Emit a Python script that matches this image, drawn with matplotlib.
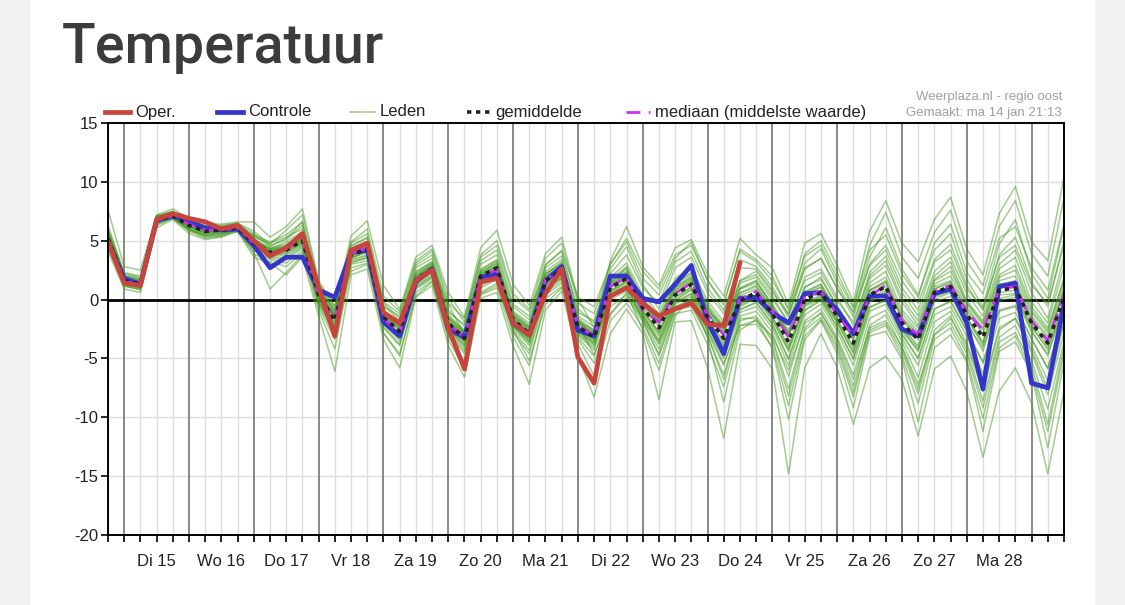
import matplotlib
matplotlib.use("Agg")
import matplotlib.pyplot as plt
from matplotlib.lines import Line2D
import numpy as np

# ---------------- data ----------------
day_labels = ["Di 15", "Wo 16", "Do 17", "Vr 18", "Za 19", "Zo 20", "Ma 21",
              "Di 22", "Wo 23", "Do 24", "Vr 25", "Za 26", "Zo 27", "Ma 28"]
y_ticks = [15, 10, 5, 0, -5, -10, -15, -20]

oper = [4.9,1.4,1.2,6.8,7.3,6.9,6.6,6.0,6.3,5.0,3.7,4.4,5.6,1.0,-3.1,4.2,4.8,-1.1,-2.0,1.6,
        2.5,-2.4,-5.9,1.5,1.8,-2.0,-3.0,0.5,2.6,-4.9,-7.1,0.3,1.0,-0.3,-1.4,-0.8,-0.3,-2.1,-2.2,3.1]

controle = [4.9,1.8,1.3,6.7,7.1,6.6,6.1,5.9,6.0,4.6,2.7,3.6,3.6,0.8,0.2,4.0,4.2,-1.9,-3.1,1.5,
            2.6,-2.5,-3.2,1.9,2.2,-2.0,-3.0,1.6,2.8,-2.6,-3.1,2.0,2.0,0.1,-0.2,1.3,2.9,-1.8,-4.6,0.1,
            0.2,-1.1,-2.0,0.5,0.6,-0.9,-2.9,0.3,0.3,-2.5,-3.1,0.5,0.9,-2.0,-7.6,1.1,1.4,-7.1,-7.5,-0.4]

gemiddelde = [5.2,1.6,1.3,6.8,7.1,6.3,5.8,5.9,6.1,4.8,4.0,4.2,5.0,0.4,-1.8,3.8,4.3,-1.5,-2.7,1.7,
              2.6,-2.0,-3.3,2.0,2.7,-1.7,-2.9,1.6,2.5,-2.3,-3.2,1.0,1.8,-0.7,-2.4,0.4,1.3,-1.5,-3.3,-0.1,
              0.6,-1.2,-3.6,0.0,0.6,-1.4,-3.7,0.4,1.1,-2.0,-3.4,0.6,1.1,-1.3,-3.2,0.8,1.0,-2.0,-3.7,0.2]

mediaan = [5.1,1.5,1.3,6.8,7.1,6.4,5.9,5.9,6.1,4.8,3.9,4.3,5.1,0.3,-1.6,3.9,4.4,-1.6,-2.8,1.8,
           2.5,-2.1,-3.2,2.1,2.5,-1.8,-2.9,1.7,2.6,-2.2,-3.1,1.1,1.9,-0.9,-1.9,0.5,1.4,-1.3,-3.0,0.0,
           0.7,-1.0,-3.2,0.2,0.7,-1.3,-3.1,0.3,1.2,-1.8,-3.0,0.7,1.2,-1.0,-2.6,0.9,1.1,-1.8,-3.5,0.4]

leden = [
    [7.6,2.8,2.5,7.2,7.7,6.9,6.5,6.4,6.6,6.6,5.3,6.2,7.7,1.6,-0.6,5.4,6.7,1.2,-0.8,3.6,4.6,0.6,-1.5,4.4,5.9,1.3,-0.5,3.9,5.3,0.1,-2.4,3.3,6.2,2.8,1.2,4.4,5.1,2.2,0.3,5.2,3.8,2.7,-0.4,4.8,5.6,2.9,-0.2,5.8,8.4,4.8,3.2,6.8,8.7,4.3,2.1,7.3,9.6,4.9,3.3,10.4],
    [4.1,0.9,0.6,6.1,6.8,5.6,5.1,5.3,5.8,3.6,3.1,2.1,3.6,-1.4,-6.1,2.1,2.6,-3.4,-5.8,0.2,1.2,-3.9,-6.6,0.1,0.6,-3.9,-7.2,-0.9,0.7,-4.8,-8.3,-2.9,-0.8,-2.9,-8.5,-1.9,-1.8,-5.8,-11.8,-3.8,-3.9,-5.9,-14.8,-5.8,-2.9,-5.8,-10.6,-5.8,-4.8,-6.8,-11.6,-5.9,-4.8,-7.8,-13.4,-7.8,-5.8,-8.8,-14.8,-7.8],
    [6.3,2.2,1.9,7.0,7.4,6.7,6.2,6.2,6.4,5.4,4.6,5.1,6.3,1.2,-1.0,4.8,5.6,-0.3,-1.6,2.9,3.8,-0.9,-2.3,3.3,4.2,-0.4,-1.4,3.0,4.1,-1.1,-1.8,2.6,4.5,1.3,-0.8,2.7,3.6,0.6,-1.2,3.4,2.8,1.1,-1.3,3.1,4.3,1.4,-1.2,3.6,6.1,2.6,0.4,4.2,5.6,1.7,-0.6,4.7,6.8,2.2,0.1,6.2],
    [4.5,1.1,0.9,6.4,6.9,5.9,5.4,5.6,5.9,4.2,3.4,3.1,4.2,-0.6,-3.4,3.0,3.3,-2.4,-3.9,0.9,1.8,-2.9,-4.6,1.0,1.7,-2.8,-4.6,0.4,1.4,-3.4,-5.4,-1.2,0.2,-1.9,-4.6,-0.8,-0.4,-3.1,-6.4,-1.8,-1.4,-3.3,-7.6,-2.4,-1.1,-3.6,-7.4,-2.2,-1.3,-4.1,-7.6,-2.6,-1.4,-4.3,-8.6,-3.2,-2.2,-5.2,-9.3,-3.6],
    [5.3,1.7,1.4,6.9,7.2,6.3,5.8,5.9,6.1,4.9,4.1,4.3,5.1,0.5,-1.7,3.9,4.4,-1.4,-2.6,1.8,2.7,-1.9,-3.1,2.1,2.8,-1.6,-2.7,1.7,2.6,-2.1,-3.0,1.2,2.0,-0.5,-2.1,0.6,1.5,-1.2,-2.9,0.3,0.9,-0.9,-3.1,0.4,1.0,-1.0,-3.2,0.8,1.6,-1.5,-2.9,1.1,1.6,-0.8,-2.6,1.3,1.6,-1.4,-3.1,0.9],
    [5.0,1.4,1.1,6.7,7.0,6.1,5.6,5.7,6.0,4.6,3.8,4.0,4.8,0.1,-2.2,3.6,4.0,-1.8,-3.1,1.4,2.3,-2.4,-3.8,1.7,2.3,-2.1,-3.4,1.2,2.1,-2.7,-3.7,0.6,1.3,-1.3,-3.1,-0.1,0.8,-2.0,-4.0,-0.6,0.1,-1.8,-4.4,-0.6,0.1,-2.0,-4.5,-0.2,0.4,-2.7,-4.3,-0.2,0.3,-2.1,-4.1,-0.1,0.2,-2.8,-4.6,-0.6],
    [5.6,1.9,1.6,6.9,7.3,6.5,6.0,6.1,6.3,5.1,4.4,4.7,5.6,0.8,-1.2,4.3,4.9,-0.9,-2.0,2.4,3.2,-1.3,-2.6,2.6,3.4,-1.0,-2.0,2.4,3.4,-1.4,-2.3,1.9,3.1,0.4,-1.2,1.8,2.7,-0.1,-1.9,1.6,2.1,0.3,-2.0,1.9,2.6,0.2,-2.2,2.3,3.7,0.6,-1.4,2.4,3.6,0.5,-1.4,3.0,4.2,0.6,-1.6,3.6],
    [4.8,1.3,1.0,6.6,6.9,6.0,5.5,5.6,5.9,4.4,3.6,3.6,4.5,-0.2,-2.7,3.3,3.7,-2.1,-3.5,1.1,2.0,-2.6,-4.2,1.4,2.0,-2.4,-3.9,0.8,1.8,-3.0,-4.3,0.0,0.7,-1.7,-3.7,-0.4,0.3,-2.5,-5.0,-1.1,-0.6,-2.4,-5.6,-1.3,-0.4,-2.7,-5.6,-1.0,-0.4,-3.3,-5.6,-1.3,-0.6,-3.1,-6.3,-1.6,-1.1,-3.9,-6.9,-1.9],
    [5.5,1.8,1.5,6.8,7.1,6.2,5.7,5.8,6.0,4.0,0.9,2.3,3.8,0.9,-0.9,2.4,3.0,-0.6,-1.4,2.0,3.0,-0.4,-3.0,0.5,1.2,-2.6,-5.2,-0.4,1.0,-2.1,-4.7,-1.3,0.6,-2.6,-6.0,-1.4,0.2,-3.3,-8.7,-2.6,-1.7,-4.2,-10.2,-3.4,-1.8,-4.6,-9.2,-3.1,-2.7,-5.1,-10.4,-4.1,-3.0,-5.3,-11.2,-4.4,-3.6,-6.3,-12.6,-5.3],
    [4.9,1.5,1.2,6.5,7.0,6.0,5.3,5.4,6.0,5.5,4.9,5.5,6.6,0.0,-3.0,3.1,3.6,-2.9,-4.6,0.3,1.5,-3.1,-5.2,0.6,1.4,-1.1,-2.2,2.9,4.2,0.2,-0.6,3.0,5.2,2.4,0.9,3.8,4.6,1.7,-0.5,4.3,3.4,2.0,-0.9,3.9,5.0,2.3,-0.6,4.6,7.4,3.6,1.8,5.7,7.6,3.3,1.2,6.2,8.4,3.9,2.0,8.6],
    [5.9,2.0,1.7,7.1,7.5,6.6,6.1,6.2,6.5,5.8,4.7,5.9,7.2,1.4,-0.6,4.9,6.0,0.3,-1.0,3.3,4.3,0.1,-1.9,3.8,5.0,0.5,-0.8,2.2,3.0,-1.6,-3.4,1.4,2.7,-0.2,-1.6,1.3,2.2,-0.6,-2.5,0.9,1.6,-0.4,-2.8,1.0,1.9,-0.6,-2.6,1.8,2.9,-0.2,-2.2,1.7,2.8,-0.3,-2.0,2.1,2.9,-0.6,-2.4,1.7],
    [4.4,1.2,0.8,6.3,6.9,5.8,5.2,5.4,5.8,3.9,3.2,2.8,4.0,-0.9,-4.2,2.7,3.1,-2.8,-4.8,0.6,1.6,-3.4,-5.8,0.4,1.0,-3.2,-5.6,0.1,1.1,-3.8,-6.5,-1.8,-0.3,-2.3,-5.4,-1.2,-0.9,-3.8,-7.4,-2.2,-2.1,-4.0,-9.0,-3.1,-1.7,-4.2,-8.3,-2.8,-2.2,-4.8,-8.8,-3.4,-2.4,-5.1,-10.1,-4.1,-3.1,-6.1,-11.2,-4.5],
    [5.4,1.6,1.3,6.9,7.2,6.4,5.9,6.0,6.2,5.0,4.2,4.5,5.3,0.6,-1.4,4.1,4.6,-1.2,-2.3,2.1,3.0,-1.6,-2.9,2.3,3.1,-1.3,-2.4,2.0,2.9,-1.8,-2.7,1.5,2.4,-0.1,-1.7,1.1,2.0,-0.7,-2.4,0.9,1.4,-0.4,-2.6,1.1,1.7,-0.5,-2.7,1.4,2.4,-0.9,-2.4,1.6,2.4,-0.3,-2.1,1.9,2.5,-0.9,-2.6,1.8],
    [5.1,1.5,1.2,6.7,7.1,6.2,5.7,5.8,6.0,4.7,3.9,4.1,4.9,0.3,-2.0,3.7,4.2,-1.6,-2.9,1.6,2.5,-2.2,-3.5,1.9,2.5,-1.9,-3.1,1.4,2.3,-2.4,-3.4,0.8,1.6,-1.0,-2.7,0.2,1.1,-1.7,-3.5,-0.3,0.4,-1.4,-3.9,-0.3,0.4,-1.7,-4.0,0.1,0.8,-2.3,-3.9,0.2,0.7,-1.7,-3.7,0.4,0.5,-2.4,-4.1,-0.2],
    [6.0,2.3,2.0,7.1,7.5,6.8,6.3,6.3,6.5,5.3,4.8,5.3,6.0,1.0,-1.1,4.6,5.3,-0.5,-1.8,2.7,3.5,-1.1,-2.1,3.0,3.8,-0.6,-1.7,2.7,3.7,-0.8,-2.0,2.2,3.8,1.0,-0.3,3.2,4.1,1.0,-0.9,2.7,2.6,0.8,-1.5,2.6,3.5,1.0,-1.5,3.0,4.6,1.6,-0.3,3.4,4.7,1.2,-0.9,3.8,5.3,1.5,-0.6,5.0],
    [4.6,1.2,0.9,6.5,7.0,5.9,5.4,5.5,5.9,4.3,3.5,3.4,4.4,-0.4,-3.0,3.2,3.5,-2.3,-3.8,1.0,1.9,-2.8,-4.4,1.2,1.8,-2.6,-4.3,0.6,1.6,-3.2,-4.8,-0.6,0.4,-1.6,-4.2,-0.6,0.0,-2.8,-5.6,-1.4,-1.0,-2.8,-6.5,-1.8,-0.8,-3.2,-6.4,-1.6,-0.9,-3.6,-6.6,-1.9,-1.0,-3.7,-7.4,-2.4,-1.6,-4.5,-8.1,-2.8],
    [5.7,1.9,1.6,7.0,7.3,6.6,6.1,6.1,6.3,5.2,4.3,4.9,5.8,0.7,-1.6,4.0,4.7,-1.0,-2.2,2.2,3.1,-1.5,-2.8,2.4,3.2,-1.4,-2.5,2.1,3.1,-1.9,-2.9,1.6,2.6,-0.3,-1.9,1.0,1.9,-1.0,-2.2,1.4,1.9,0.0,-1.9,1.6,2.3,-0.1,-1.9,2.0,3.3,0.1,-1.8,2.0,3.2,-0.1,-1.8,2.6,3.6,-0.2,-2.0,2.8],
    [5.2,1.6,1.3,6.8,7.1,6.3,5.8,5.9,6.1,4.8,4.0,4.2,5.0,0.4,-1.9,3.8,4.3,-1.5,-2.7,1.7,2.6,-2.1,-3.4,1.9,2.6,-2.0,-3.3,1.0,1.8,-2.6,-3.6,0.3,1.0,-1.5,-3.4,-0.3,0.5,-2.3,-4.5,-0.9,-0.2,-2.1,-5.0,-0.9,-0.1,-2.4,-5.0,-0.6,-0.1,-3.0,-5.0,-0.8,-0.2,-2.7,-5.3,-1.0,-0.6,-3.4,-5.8,-1.2],
    [5.8,2.1,1.8,7.1,7.4,6.6,6.1,6.1,6.4,5.6,4.5,5.2,6.6,1.1,-0.8,4.5,5.2,-0.2,-1.2,3.1,4.1,-0.3,-1.6,3.6,4.6,0.2,-1.0,3.5,4.8,-0.3,-1.2,3.0,4.9,1.8,0.4,3.5,4.9,1.6,-0.2,4.1,3.2,1.6,-0.7,3.7,4.6,1.8,-0.7,4.2,5.5,2.2,0.2,4.8,6.4,2.3,0.5,5.2,6.2,2.7,0.8,6.4],
    [4.7,1.3,1.0,6.6,7.0,6.0,5.5,5.6,5.9,4.5,3.7,3.8,4.6,-0.3,-2.5,3.4,3.8,-2.0,-3.3,1.2,2.1,-2.5,-4.0,1.5,2.1,-2.3,-3.7,0.9,1.9,-2.9,-4.1,0.2,0.9,-1.4,-3.5,-0.2,0.5,-2.2,-4.6,-0.8,-0.3,-2.1,-5.1,-0.9,0.0,-2.3,-5.1,-0.7,0.0,-2.9,-5.0,-0.8,-0.1,-2.6,-5.4,-0.9,-0.5,-3.3,-5.9,-1.1],
    [5.0,1.4,1.1,6.7,7.1,6.2,5.6,5.8,6.0,4.6,3.8,3.9,4.7,0.2,-2.3,3.5,4.1,-1.7,-3.0,1.5,2.4,-2.3,-3.6,1.8,2.4,-2.2,-3.6,1.1,2.0,-2.8,-3.9,0.4,1.2,-1.8,-4.8,-0.9,-0.6,-3.0,-6.8,-1.6,-1.6,-3.5,-8.2,-2.6,-1.5,-3.9,-7.9,-2.6,-2.0,-4.4,-8.0,-3.0,-2.0,-4.6,-9.2,-3.6,-2.8,-5.6,-10.6,-4.0],
    [5.4,1.7,1.4,6.9,7.2,6.4,5.9,6.0,6.2,4.9,4.2,4.4,5.2,0.6,-1.5,4.0,4.5,-1.3,-2.4,1.9,2.8,-1.8,-3.0,2.2,2.9,-1.5,-2.6,1.9,2.8,-2.0,-2.8,1.3,2.2,-0.7,-2.3,0.8,1.7,-1.1,-3.0,1.6,2.4,0.6,-1.2,2.7,3.5,0.9,-1.0,2.9,4.2,1.0,-0.9,3.2,4.2,0.9,-0.8,3.6,4.6,1.2,-0.3,4.6],
    [5.3,1.6,1.3,6.8,7.2,6.3,5.8,5.9,6.2,4.8,4.1,4.3,5.0,0.5,-1.6,3.9,4.4,-1.4,-2.5,1.8,2.7,-1.9,-3.2,2.1,2.8,-1.7,-2.8,1.6,2.5,-2.3,-3.3,1.0,1.8,-1.2,-3.8,-0.7,0.0,-2.6,-5.4,-2.2,-1.8,-3.1,-6.0,-2.0,-1.2,-3.4,-6.8,-2.4,-1.8,-4.0,-7.2,-3.0,-1.6,-3.9,-7.8,-2.6,-1.6,-4.2,-7.6,-2.0],
    [5.6,1.8,1.5,6.9,7.3,6.5,6.0,6.1,6.3,5.1,4.3,4.6,5.4,0.7,-1.3,4.2,4.8,-1.1,-2.1,2.3,3.2,-1.4,-2.7,2.5,3.3,-1.2,-2.3,2.2,3.2,-1.6,-2.6,1.7,2.8,0.1,-1.5,1.4,2.3,-0.4,-2.2,1.0,1.6,-0.6,-3.0,0.6,1.3,-1.2,-3.4,0.8,1.5,-1.7,-3.4,0.9,1.5,-1.5,-3.6,1.1,1.4,-1.9,-3.9,0.9],
    [5.5,1.7,1.5,7.0,7.3,6.5,6.0,6.0,6.3,5.0,4.3,4.5,5.3,0.2,-2.1,3.7,4.2,-1.8,-3.2,1.4,2.3,-2.4,-3.9,1.5,2.2,-2.2,-3.5,1.3,2.2,-2.6,-3.8,0.7,1.5,-0.9,-2.8,0.2,1.0,-1.9,-3.9,-0.5,0.2,-1.6,-4.3,-0.5,0.3,-1.9,-4.6,-0.1,0.6,-2.5,-4.4,0.0,0.6,-1.9,-4.4,0.1,0.4,-2.6,-4.8,-0.4],
    [5.0,1.5,1.2,6.8,7.1,6.2,5.7,5.8,6.1,4.7,4.0,4.3,5.1,0.6,-1.3,4.0,4.5,-1.2,-2.2,2.0,2.9,-1.6,-2.8,2.3,3.0,-1.4,-2.4,1.9,2.8,-1.8,-2.6,1.4,2.3,-0.3,-1.8,1.0,1.8,-0.8,-2.6,0.6,1.2,-0.7,-2.9,0.7,1.3,-0.8,-2.9,1.1,1.9,-1.2,-2.7,1.3,2.0,-0.6,-2.4,1.6,2.0,-1.1,-2.8,1.3],
    [5.7,2.0,1.7,7.0,7.4,6.5,6.0,6.0,6.2,4.9,4.0,4.1,4.8,0.0,-2.4,3.5,4.1,-1.7,-3.0,1.5,2.4,-2.2,-3.6,1.8,2.5,-1.9,-3.2,1.3,2.3,-2.5,-3.5,0.7,1.5,-1.1,-2.9,0.0,0.9,-1.8,-3.7,-0.4,0.3,-1.5,-4.1,-0.4,0.2,-1.8,-4.2,0.0,0.6,-2.4,-4.1,0.3,0.9,-1.5,-3.9,0.6,0.8,-2.2,-4.3,0.0],
    [5.2,1.8,1.4,6.8,7.1,6.4,5.9,5.9,6.1,4.8,4.1,4.4,5.1,0.5,-1.5,4.0,4.4,-1.3,-2.4,1.9,2.8,-1.8,-3.0,2.1,2.8,-1.6,-2.7,1.8,2.7,-2.0,-2.9,1.3,2.1,-0.4,-1.9,0.8,1.6,-1.0,-2.7,0.5,1.1,-0.8,-3.0,0.5,1.1,-1.1,-3.3,0.7,1.4,-1.6,-3.1,0.9,1.4,-1.0,-2.9,1.0,1.2,-1.6,-3.3,0.7],
]

# ---------------- figure ----------------
W, H = 1125, 605
fig = plt.figure(figsize=(W / 100, H / 100), dpi=100)
fig.patch.set_facecolor("#f2f2f2")
font = ["Liberation Sans", "DejaVu Sans"]

# white card behind everything
card = plt.Rectangle((30 / W, 0), (1095 - 30) / W, 1, transform=fig.transFigure,
                     facecolor="white", edgecolor="none", zorder=-10)
fig.patches.append(card)

fig.text(62 / W, 1 - 48 / H, "Temperatuur", fontsize=40, fontweight="medium",
         color="#3c3c3c", family=["Roboto", "DejaVu Sans"], va="center", ha="left",
         zorder=5)

left, right, top, bottom = 108, 1064, 123, 535
ax = fig.add_axes([left / W, 1 - bottom / H, (right - left) / W, (bottom - top) / H])
ax.set_zorder(2)
ax.set_facecolor("white")

n = len(controle)
x_all = np.arange(n)
ax.set_xlim(0, n - 1)
ax.set_ylim(-20, 15)

# grid
for i in range(n):
    if i % 4 == 1:
        ax.axvline(i, color="#6a6a6a", lw=1.1, zorder=1)
    else:
        ax.axvline(i, color="#dddddd", lw=1.0, zorder=0.5)
for v in y_ticks:
    if v != 0:
        ax.axhline(v, color="#dddddd", lw=1.0, zorder=0.5)
ax.axhline(0, color="black", lw=2.0, zorder=1.5)

# members
for m in leden:
    ax.plot(x_all[:len(m)], m, color="#469a22", lw=1.1, alpha=0.5, zorder=2)

ax.plot(x_all, controle, color="#3535cc", lw=3.4, zorder=4)
ax.plot(x_all, mediaan, color="#cc33ee", lw=2.0, dashes=(5, 3), zorder=5)
ax.plot(x_all, gemiddelde, color="#222222", lw=2.6, dashes=(1.2, 1.3), zorder=5)
ax.plot(x_all[:len(oper)], oper, color="#c8433b", lw=3.4, zorder=6)

# axes styling
for s in ax.spines.values():
    s.set_color("black")
    s.set_linewidth(1.4)
    s.set_zorder(7)
ax.set_yticks(y_ticks)
ax.set_yticklabels([str(v) for v in y_ticks], family=font, fontsize=12, color="#222222")
ax.set_xticks(x_all)
ax.set_xticklabels([])
ax.tick_params(axis="both", direction="out", length=5, width=1.2, color="black")
ax.tick_params(axis="y", pad=2)

for k, lab in enumerate(day_labels):
    ax.text(3 + 4 * k, -0.045, lab, transform=ax.get_xaxis_transform(), ha="center",
            va="top", fontsize=12, family=font, color="#222222")

# legend (figure coords)
def fx(px):
    return px / W

def fy(py):
    return 1 - py / H

ly = 112
items = [
    (105, 130, "Oper.", dict(color="#c8433b", lw=3.4)),
    (217, 243, "Controle", dict(color="#3535cc", lw=3.4)),
    (350, 375, "Leden", dict(color="#9fcf85", lw=1.2)),
    (467, 490, "gemiddelde", dict(color="#222222", lw=2.6, dashes=(1.2, 1.3))),
    (626, 650, "mediaan (middelste waarde)", dict(color="#cc33ee", lw=2.0, dashes=(5, 3))),
]
for x0, x1, lab, st in items:
    fig.add_artist(Line2D([fx(x0), fx(x1)], [fy(ly), fy(ly)], transform=fig.transFigure, **st))
    fig.text(fx(x1 + 5), fy(ly), lab, fontsize=12, family=font, color="#222222",
             va="center", ha="left")

fig.text(fx(1062), fy(97), "Weerplaza.nl - regio oost", fontsize=9.5, family=font,
         color="#a0a0a0", ha="right", va="center")
fig.text(fx(1062), fy(113), "Gemaakt: ma 14 jan 21:13", fontsize=9.5, family=font,
         color="#a0a0a0", ha="right", va="center")

fig.savefig("out.png", dpi=100, facecolor=fig.get_facecolor())
